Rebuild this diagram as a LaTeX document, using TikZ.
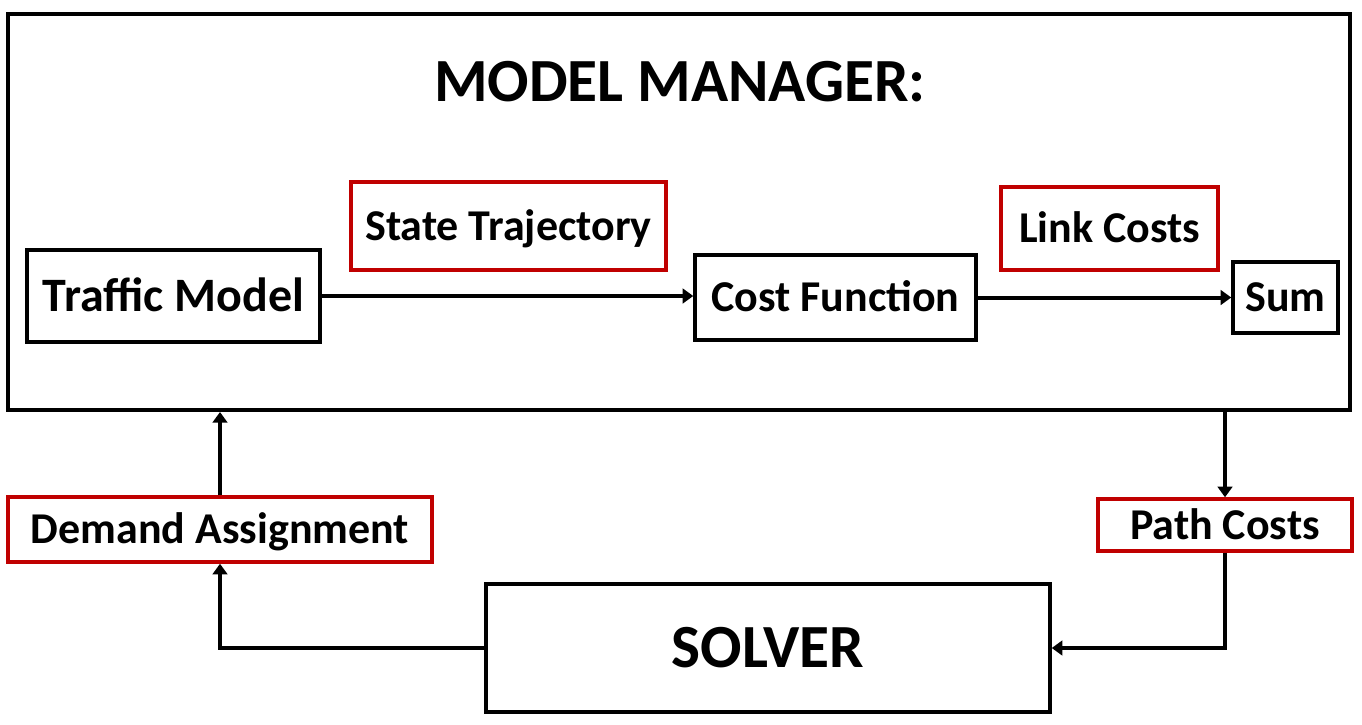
\documentclass[tikz,border=0pt]{standalone}
\usepackage{fontspec}
\setmainfont{Carlito}
\usetikzlibrary{arrows.meta}
\definecolor{dred}{HTML}{C00000}
\tikzset{
  px/.style={x=0.75pt,y=-0.75pt},
  lbl/.style={inner sep=0pt,text height=21.2pt,text depth=0pt,font=\bfseries\fontsize{33}{38}\selectfont},
  big/.style={font=\bfseries\fontsize{46}{54}\selectfont,text height=29.6pt},
  blk/.style={lbl,draw=black,line width=2.6pt},
  redbox/.style={lbl,draw=dred,line width=2.6pt},
  conn/.style={line width=3pt,-{Triangle[length=8pt,width=11pt]}},
}
\begin{document}
\begin{tikzpicture}[px]
\useasboundingbox (0,0) rectangle (1362,724);
\node[draw=black,line width=3pt,minimum width=1342*0.75pt,minimum height=396*0.75pt,inner sep=0pt] (mm) at (679,212) {};
\node[lbl,big] (title) at (680,82) {MODEL MANAGER:};
\node[blk,minimum width=293*0.75pt,minimum height=92*0.75pt,font=\bfseries\fontsize{36}{40}\selectfont,text height=23.2pt] (tm) at (173.5,296) {Traffic Model};
\node[redbox,minimum width=315*0.75pt,minimum height=88*0.75pt] (st) at (508.5,226) {State Trajectory};
\node[blk,minimum width=281*0.75pt,minimum height=85*0.75pt] (cf) at (835.5,297.5) {Cost Function};
\node[redbox,minimum width=217*0.75pt,minimum height=83*0.75pt] (lc) at (1109.5,228.5) {Link Costs};
\node[blk,minimum width=105*0.75pt,minimum height=71*0.75pt] (sum) at (1285.5,297.5) {Sum};
\node[redbox,minimum width=424*0.75pt,minimum height=65*0.75pt] (da) at (220,529.5) {Demand Assignment};
\node[redbox,minimum width=254*0.75pt,minimum height=52*0.75pt] (pc) at (1225,525) {Path Costs};
\node[blk,big,minimum width=564*0.75pt,minimum height=128*0.75pt] (sv) at (768,648) {SOLVER};
\draw[conn] (tm.east |- 0,296) -- (cf.west |- 0,296);
\draw[conn] (cf.east) -- (sum.west);
\draw[conn] (da.north) -- (da.north |- mm.south);
\draw[conn] (pc.north |- mm.south) -- (pc.north);
\draw[conn] (pc.south) |- (sv.east);
\draw[conn] (sv.west) -| (da.south);
\end{tikzpicture}
\end{document}
